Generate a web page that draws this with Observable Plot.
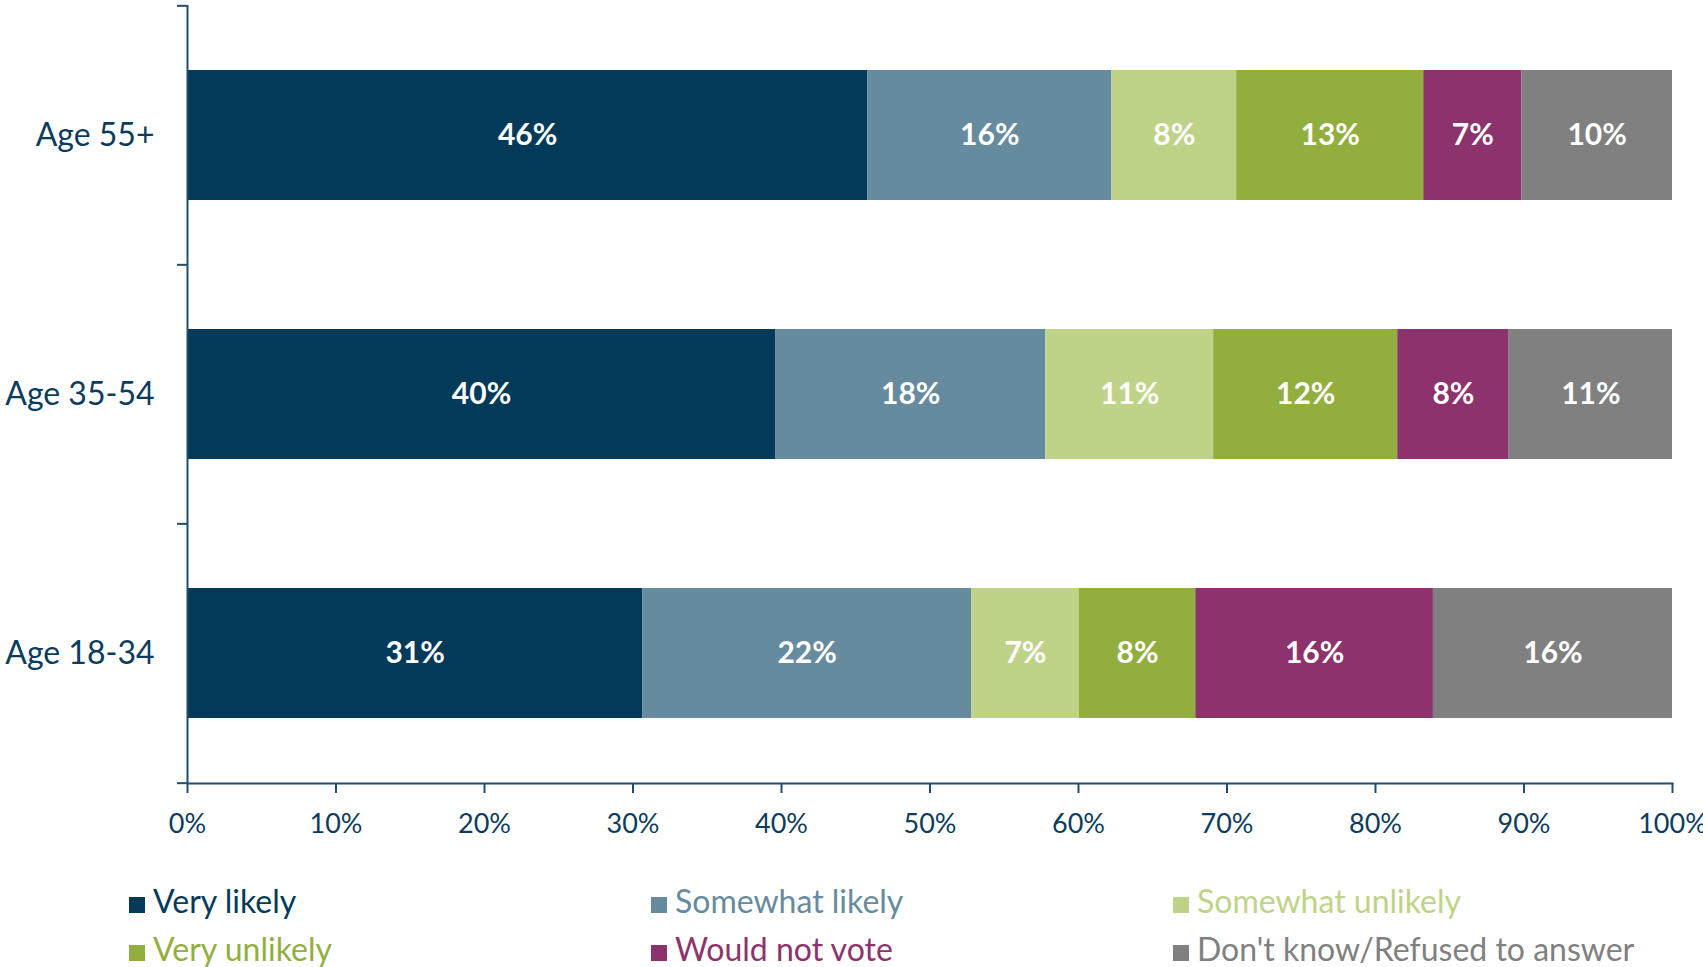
<!DOCTYPE html>
<html>
<head>
<meta charset="utf-8">
<script src="https://cdn.jsdelivr.net/npm/d3@7"></script>
<script src="https://cdn.jsdelivr.net/npm/@observablehq/plot@0.6"></script>
<style>
  html, body { margin: 0; padding: 0; background: #fff; }
  body { width: 1703px; height: 967px; overflow: hidden; font-family: Lato, "Open Sans", sans-serif; }
  #legend {
    display: grid;
    grid-template-columns: 522px 522px 522px;
    grid-auto-rows: 48px;
    padding-left: 129px;
    padding-top: 17px;
    font-size: 32px;
    line-height: 48px;
    white-space: nowrap;
  }
  #legend .item { display: flex; align-items: baseline; }
  #legend .sw { display: inline-block; width: 16px; height: 16px; margin-right: 8px; }
</style>
</head>
<body>
<div id="chart"></div>
<div id="legend"></div>
<script>
// Categories (top to bottom)
const ages = ["Age 55+", "Age 35-54", "Age 18-34"];
// Response series (stack order, left to right)
const responses = ["Very likely", "Somewhat likely", "Somewhat unlikely", "Very unlikely", "Would not vote", "Don't know/Refused to answer"];
const colors = ["#033A5A", "#668A9E", "#BFD388", "#92AE3F", "#8C326C", "#808080"];
// Percentages per age group, in response order
const age55 = [45.8, 16.45, 8.4, 12.6, 6.6, 10.15];
const age35 = [39.6, 18.2, 11.3, 12.4, 7.5, 11.0];
const age18 = [30.65, 22.15, 7.25, 7.85, 16.0, 16.1];
const xTicks = [0, 10, 20, 30, 40, 50, 60, 70, 80, 90, 100];

const seriesByAge = [age55, age35, age18];
const data = [];
ages.forEach((a, i) => responses.forEach((r, j) => data.push({age: a, response: r, value: seriesByAge[i][j]})));

const W = 1703, H = 860, mT = 5, mB = 77;
const step = (H - mT - mB) / ages.length;
const axisColor = "#1F4E6E";
const textColor = "#0B3C5D";

const chart = Plot.plot({
  width: W,
  height: H,
  marginLeft: 187,
  marginRight: 31,
  marginTop: mT,
  marginBottom: mB,
  style: {fontFamily: "Lato, 'Open Sans', sans-serif", background: "#fff"},
  x: {domain: [0, 100]},
  y: {domain: ages, paddingInner: 0.5, paddingOuter: 0.25},
  color: {domain: responses, range: colors},
  marks: [
    Plot.barX(data, Plot.stackX({x: "value", y: "age", fill: "response", order: null})),
    Plot.text(data, Plot.stackX({x: "value", y: "age", order: null, text: d => Math.round(d.value) + "%", fill: "white", fontWeight: "bold", fontSize: 30})),
    Plot.ruleX([0], {stroke: axisColor, strokeWidth: 2}),
    Plot.ruleY(ages, {y: d => d, x1: 0, x2: 0, insetLeft: -10, dy: -step / 2, stroke: axisColor, strokeWidth: 2}),
    Plot.ruleY([ages[ages.length - 1]], {y: d => d, x1: 0, x2: 0, insetLeft: -10, dy: step / 2, stroke: axisColor, strokeWidth: 2}),
    Plot.frame({anchor: "bottom", stroke: axisColor, strokeWidth: 2}),
    Plot.axisX({ticks: xTicks, tickFormat: d => d + "%", tickSize: 10, tickPadding: 20, fontSize: 27, stroke: axisColor, strokeWidth: 2, color: textColor, label: null}),
    Plot.axisY({tickSize: 0, tickPadding: 33, fontSize: 32, color: textColor, label: null})
  ]
});
document.getElementById("chart").appendChild(chart);

const legend = document.getElementById("legend");
const legendOrder = [0, 1, 2, 3, 4, 5];
legendOrder.forEach(j => {
  const item = document.createElement("div");
  item.className = "item";
  item.style.color = colors[j];
  const sw = document.createElement("span");
  sw.className = "sw";
  sw.style.background = colors[j];
  item.appendChild(sw);
  item.appendChild(document.createTextNode(responses[j]));
  legend.appendChild(item);
});
</script>
</body>
</html>
